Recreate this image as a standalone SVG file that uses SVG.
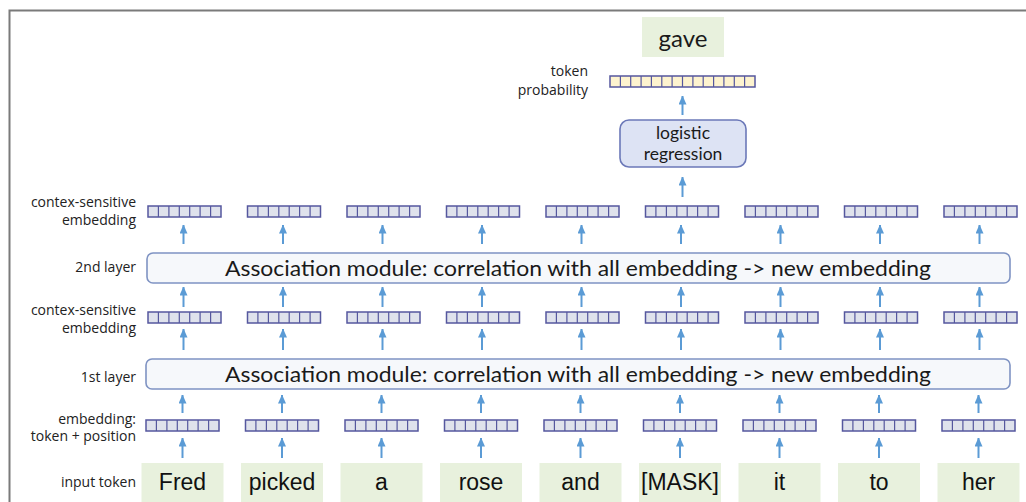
<svg xmlns="http://www.w3.org/2000/svg" xmlns:xlink="http://www.w3.org/1999/xlink" width="1026" height="502" viewBox="0 0 1026 502">
<style>
.lbl{font-family:"Open Sans","Noto Sans",sans-serif;font-size:14px;fill:#222;text-anchor:end}
.tok{font-family:"Liberation Sans",Arial,sans-serif;font-size:23px;fill:#111;text-anchor:middle}
.tokbox{fill:#e8f1dd}
.layer{fill:#f6f8fb;stroke:#7f93c3;stroke-width:1.6}
.layertxt{font-family:"Lato","Open Sans",sans-serif;font-size:22px;fill:#1a1a1a;text-anchor:middle}
.arrow line{stroke:#5b9bd5;stroke-width:2;fill:none;marker-end:url(#ah)}
.vec{fill:#dfe2ec;stroke:#55579e;stroke-width:1.5}
.vecp{fill:#fdf3cf;stroke:#55579e;stroke-width:1.5}
.sep{stroke:#55579e;stroke-width:1.2}
</style>
<defs>
<marker id="ah" markerUnits="userSpaceOnUse" markerWidth="9" markerHeight="8" viewBox="0 0 9 8" refX="8.5" refY="4" orient="auto">
<path d="M0,0 L9,4 L0,8 Z" fill="#5b9bd5"/>
</marker>
<g id="v7">
<rect class="vec" x="0" y="0" width="73" height="11"/>
<path class="sep" d="M10.4,0V11M20.9,0V11M31.3,0V11M41.7,0V11M52.1,0V11M62.6,0V11"/>
</g>
<g id="a1"><line x1="0" y1="19" x2="0" y2="0"/></g>
</defs>
<rect x="0" y="0" width="1026" height="502" fill="#fff"/>
<path d="M9.5,502V10.5H1026" fill="none" stroke="#7a7a7a" stroke-width="2"/>

<g id="labels">
<text class="lbl" x="136" y="207">contex-sensitive</text>
<text class="lbl" x="136" y="225">embedding</text>
<text class="lbl" x="136" y="272">2nd layer</text>
<text class="lbl" x="136" y="315">contex-sensitive</text>
<text class="lbl" x="136" y="333">embedding</text>
<text class="lbl" x="136" y="382">1st layer</text>
<text class="lbl" x="136" y="424">embedding:</text>
<text class="lbl" x="136" y="441">token + position</text>
<text class="lbl" x="136" y="487">input token</text>
<text class="lbl" x="588" y="76">token</text>
<text class="lbl" x="588" y="95">probability</text>
</g>

<g id="output-gave">
<rect class="tokbox" x="642" y="17" width="82" height="40"/>
<text x="683" y="47" font-family="Lato,'Open Sans',sans-serif" font-size="24" fill="#1a1a1a" text-anchor="middle">gave</text>
</g>

<g id="token-probability">
<rect class="vecp" x="610" y="76" width="145" height="11"/>
<path class="sep" d="M620.4,76V87M630.7,76V87M641.1,76V87M651.4,76V87M661.8,76V87M672.1,76V87M682.5,76V87M692.9,76V87M703.2,76V87M713.6,76V87M723.9,76V87M734.3,76V87M744.6,76V87"/>
</g>

<g id="logistic-regression">
<rect x="620" y="120" width="126" height="47" rx="9" fill="#dde3f4" stroke="#6b78b8" stroke-width="1.6"/>
<text x="683" y="139" font-family="Lato,'Open Sans',sans-serif" font-size="17.5" fill="#1a1a1a" text-anchor="middle">logistic</text>
<text x="683" y="160" font-family="Lato,'Open Sans',sans-serif" font-size="17.5" fill="#1a1a1a" text-anchor="middle">regression</text>
</g>

<g id="layer2">
<rect class="layer" x="147" y="253" width="863" height="30" rx="6"/>
<text class="layertxt" x="578" y="276" textLength="706" lengthAdjust="spacingAndGlyphs">Association module: correlation with all embedding -&gt; new embedding</text>
</g>
<g id="layer1">
<rect class="layer" x="146" y="359" width="864" height="30" rx="6"/>
<text class="layertxt" x="578" y="382" textLength="706" lengthAdjust="spacingAndGlyphs">Association module: correlation with all embedding -&gt; new embedding</text>
</g>

<g id="ctx2-vectors">
<use xlink:href="#v7" x="148" y="206"/>
<use xlink:href="#v7" x="247.5" y="206"/>
<use xlink:href="#v7" x="347" y="206"/>
<use xlink:href="#v7" x="446.5" y="206"/>
<use xlink:href="#v7" x="546" y="206"/>
<use xlink:href="#v7" x="645.5" y="206"/>
<use xlink:href="#v7" x="745" y="206"/>
<use xlink:href="#v7" x="844.5" y="206"/>
<use xlink:href="#v7" x="944" y="206"/>
</g>
<g id="ctx1-vectors">
<use xlink:href="#v7" x="148" y="312"/>
<use xlink:href="#v7" x="247.5" y="312"/>
<use xlink:href="#v7" x="347" y="312"/>
<use xlink:href="#v7" x="446.5" y="312"/>
<use xlink:href="#v7" x="546" y="312"/>
<use xlink:href="#v7" x="645.5" y="312"/>
<use xlink:href="#v7" x="745" y="312"/>
<use xlink:href="#v7" x="844.5" y="312"/>
<use xlink:href="#v7" x="944" y="312"/>
</g>
<g id="emb-vectors">
<use xlink:href="#v7" x="146" y="420"/>
<use xlink:href="#v7" x="245.5" y="420"/>
<use xlink:href="#v7" x="345" y="420"/>
<use xlink:href="#v7" x="444.5" y="420"/>
<use xlink:href="#v7" x="544" y="420"/>
<use xlink:href="#v7" x="643.5" y="420"/>
<use xlink:href="#v7" x="743" y="420"/>
<use xlink:href="#v7" x="842.5" y="420"/>
<use xlink:href="#v7" x="942" y="420"/>
</g>

<g id="tok-0"><rect class="tokbox" x="141.5" y="463" width="82" height="45"/><text class="tok" x="182.5" y="490">Fred</text></g>
<g id="tok-1"><rect class="tokbox" x="241" y="463" width="82" height="45"/><text class="tok" x="282" y="490">picked</text></g>
<g id="tok-2"><rect class="tokbox" x="340.5" y="463" width="82" height="45"/><text class="tok" x="381.5" y="490">a</text></g>
<g id="tok-3"><rect class="tokbox" x="440" y="463" width="82" height="45"/><text class="tok" x="481" y="490">rose</text></g>
<g id="tok-4"><rect class="tokbox" x="539.5" y="463" width="82" height="45"/><text class="tok" x="580.5" y="490">and</text></g>
<g id="tok-5"><rect class="tokbox" x="639" y="463" width="82" height="45"/><text class="tok" x="680" y="490">[MASK]</text></g>
<g id="tok-6"><rect class="tokbox" x="738.5" y="463" width="82" height="45"/><text class="tok" x="779.5" y="490">it</text></g>
<g id="tok-7"><rect class="tokbox" x="838" y="463" width="82" height="45"/><text class="tok" x="879" y="490">to</text></g>
<g id="tok-8"><rect class="tokbox" x="937.5" y="463" width="82" height="45"/><text class="tok" x="978.5" y="490">her</text></g>

<g id="connectors" class="arrow">
<line x1="682.5" y1="115" x2="682.5" y2="96"/>
<line x1="682.5" y1="197" x2="682.5" y2="177"/>
<line x1="183.5" y1="244" x2="183.5" y2="225"/><line x1="283" y1="244" x2="283" y2="225"/><line x1="382.5" y1="244" x2="382.5" y2="225"/><line x1="482" y1="244" x2="482" y2="225"/><line x1="581.5" y1="244" x2="581.5" y2="225"/><line x1="681" y1="244" x2="681" y2="225"/><line x1="780.5" y1="244" x2="780.5" y2="225"/><line x1="880" y1="244" x2="880" y2="225"/><line x1="979.5" y1="244" x2="979.5" y2="225"/>
<line x1="183.5" y1="307" x2="183.5" y2="287"/><line x1="283" y1="307" x2="283" y2="287"/><line x1="382.5" y1="307" x2="382.5" y2="287"/><line x1="482" y1="307" x2="482" y2="287"/><line x1="581.5" y1="307" x2="581.5" y2="287"/><line x1="681" y1="307" x2="681" y2="287"/><line x1="780.5" y1="307" x2="780.5" y2="287"/><line x1="880" y1="307" x2="880" y2="287"/><line x1="979.5" y1="307" x2="979.5" y2="287"/>
<line x1="183.5" y1="350" x2="183.5" y2="329"/><line x1="283" y1="350" x2="283" y2="329"/><line x1="382.5" y1="350" x2="382.5" y2="329"/><line x1="482" y1="350" x2="482" y2="329"/><line x1="581.5" y1="350" x2="581.5" y2="329"/><line x1="681" y1="350" x2="681" y2="329"/><line x1="780.5" y1="350" x2="780.5" y2="329"/><line x1="880" y1="350" x2="880" y2="329"/><line x1="979.5" y1="350" x2="979.5" y2="329"/>
<line x1="182.5" y1="413" x2="182.5" y2="395"/><line x1="282" y1="413" x2="282" y2="395"/><line x1="381.5" y1="413" x2="381.5" y2="395"/><line x1="481" y1="413" x2="481" y2="395"/><line x1="580.5" y1="413" x2="580.5" y2="395"/><line x1="680" y1="413" x2="680" y2="395"/><line x1="779.5" y1="413" x2="779.5" y2="395"/><line x1="879" y1="413" x2="879" y2="395"/><line x1="978.5" y1="413" x2="978.5" y2="395"/>
<line x1="182.5" y1="458" x2="182.5" y2="438"/><line x1="282" y1="458" x2="282" y2="438"/><line x1="381.5" y1="458" x2="381.5" y2="438"/><line x1="481" y1="458" x2="481" y2="438"/><line x1="580.5" y1="458" x2="580.5" y2="438"/><line x1="680" y1="458" x2="680" y2="438"/><line x1="779.5" y1="458" x2="779.5" y2="438"/><line x1="879" y1="458" x2="879" y2="438"/><line x1="978.5" y1="458" x2="978.5" y2="438"/>
</g>
</svg>
